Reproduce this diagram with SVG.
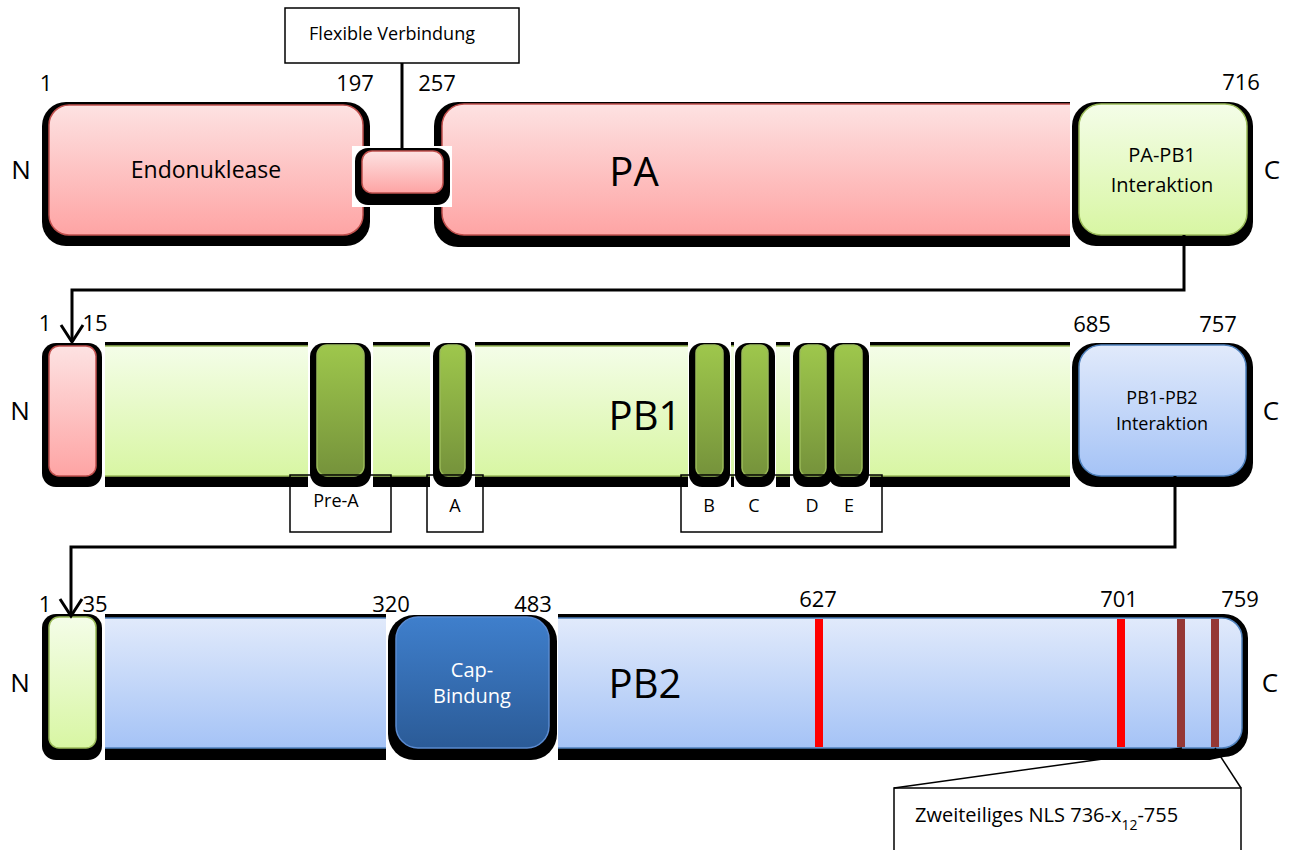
<svg xmlns="http://www.w3.org/2000/svg" width="1293" height="850" viewBox="0 0 1293 850">
<defs>
<linearGradient id="gRed" x1="0" y1="0" x2="0" y2="1"><stop offset="0" stop-color="#fde2e2"/><stop offset="1" stop-color="#fea4a4"/></linearGradient>
<linearGradient id="gLG" x1="0" y1="0" x2="0" y2="1"><stop offset="0" stop-color="#f4fde8"/><stop offset="1" stop-color="#d8f6a3"/></linearGradient>
<linearGradient id="gDG" x1="0" y1="0" x2="0" y2="1"><stop offset="0" stop-color="#9ec74c"/><stop offset="1" stop-color="#75923b"/></linearGradient>
<linearGradient id="gLB" x1="0" y1="0" x2="0" y2="1"><stop offset="0" stop-color="#e1eafb"/><stop offset="1" stop-color="#a5c3f6"/></linearGradient>
<linearGradient id="gDB" x1="0" y1="0" x2="0" y2="1"><stop offset="0" stop-color="#3f7fcc"/><stop offset="1" stop-color="#2b5b97"/></linearGradient>
<marker id="arr" markerUnits="userSpaceOnUse" markerWidth="22" markerHeight="26" refX="19" refY="13" orient="auto" viewBox="0 0 22 26">
<path d="M2,2 L19,13 L2,24" fill="none" stroke="#000" stroke-width="3"/>
</marker>
<style>
.sh{fill:#000}
.w{fill:#fff}
.red{fill:url(#gRed);stroke:#c0504d;stroke-width:1.5}
.lg{fill:url(#gLG);stroke:#9bbb59;stroke-width:1.5}
.dg{fill:url(#gDG);stroke:#9bbb59;stroke-width:1.5}
.lb{fill:url(#gLB);stroke:#4f81bd;stroke-width:1.5}
.db{fill:url(#gDB);stroke:#5a8ad0;stroke-width:1.5}
.ns{stroke:none}
.edge{fill:none;stroke-width:1.5}
.box{fill:none;stroke:#000;stroke-width:1.5}
.t{font-family:"Open Sans","Liberation Sans",sans-serif;fill:#000}
.wt{fill:#fff}
.m{text-anchor:middle}
.num{font-size:22px;text-anchor:middle}
.nc{font-size:26px;text-anchor:middle}
.big{font-size:40px;text-anchor:middle}
.lbl{font-size:18px}
.con{fill:none;stroke:#000;stroke-width:3}
.thin{fill:none;stroke:#000;stroke-width:1.5}
</style>
</defs>
<rect width="1293" height="850" fill="#fff"/>

<!-- Row 1: PA -->
<g id="endonuklease">
<rect class="sh" x="42" y="102" width="328" height="144" rx="24"/>
<rect class="red" x="49" y="105" width="314" height="130" rx="20"/>
<text class="t m" x="206" y="178" font-size="23">Endonuklease</text>
</g>
<g id="pa">
<path class="sh" d="M1070,102 H458 A24,24 0 0 0 434,126 V223 A24,24 0 0 0 458,247 H1070 Z"/>
<path class="red ns" d="M1070,104 H464 A22,22 0 0 0 442,126 V213 A22,22 0 0 0 464,235 H1070 Z"/>
<path class="edge" stroke="#c0504d" d="M1070,104 H464 A22,22 0 0 0 442,126 V213 A22,22 0 0 0 464,235 H1070"/>
<text class="t big" x="634" y="186">PA</text>
</g>
<g id="linker">
<rect class="w" x="352" y="146" width="100" height="61"/>
<rect class="sh" x="355" y="148" width="95" height="57" rx="13"/>
<rect class="red" x="362" y="151" width="81" height="42" rx="10"/>
</g>
<g id="flexible-verbindung">
<rect x="285" y="8" width="234" height="55" fill="#fff" stroke="#000" stroke-width="1.5"/>
<text class="t m lbl" x="392" y="40">Flexible Verbindung</text>
</g>
<g id="pa-pb1">
<rect class="sh" x="1072" y="102" width="181" height="144" rx="24"/>
<rect class="lg" x="1079" y="104" width="168" height="131" rx="22"/>
<text class="t m" x="1162" y="162" font-size="20">PA-PB1</text>
<text class="t m" x="1162" y="192" font-size="20">Interaktion</text>
</g>
<g id="pa-labels" class="t">
<text class="nc" x="21" y="179">N</text>
<text class="nc" x="1272" y="179">C</text>
<text class="num" x="46" y="91">1</text>
<text class="num" x="355" y="91">197</text>
<text class="num" x="437" y="91">257</text>
<text class="num" x="1241" y="90">716</text>
</g>

<!-- Row 2: PB1 -->
<g id="pb1-n">
<rect class="sh" x="42" y="343" width="60" height="144" rx="14"/>
<rect class="red" x="49" y="346" width="47" height="130" rx="10"/>
</g>
<g id="pb1">
<rect class="sh" x="105" y="342" width="965" height="145"/>
<rect class="lg ns" x="105" y="346" width="965" height="130"/>
<path class="edge" stroke="#9bbb59" d="M105,346 H1070 M105,476 H1070"/>
<rect class="w" x="308" y="340" width="65" height="150"/>
<rect class="w" x="430" y="340" width="45" height="150"/>
<rect class="w" x="688" y="340" width="43" height="150"/>
<rect class="w" x="734" y="340" width="42" height="150"/>
<rect class="w" x="790" y="340" width="80" height="150"/>
<text class="t big" x="645" y="430">PB1</text>
</g>
<g id="motif-pre-a">
<rect class="sh" x="310" y="343" width="61" height="144" rx="14"/>
<rect class="dg" x="317" y="345" width="47" height="131" rx="10"/>
</g>
<g id="motif-a">
<rect class="sh" x="433" y="343" width="39" height="144" rx="13"/>
<rect class="dg" x="440" y="345" width="25" height="131" rx="8"/>
</g>
<g id="motif-b">
<rect class="sh" x="689" y="343" width="41" height="144" rx="13"/>
<rect class="dg" x="696" y="345" width="27" height="131" rx="8"/>
</g>
<g id="motif-c">
<rect class="sh" x="735" y="343" width="40" height="144" rx="13"/>
<rect class="dg" x="742" y="345" width="26" height="131" rx="8"/>
</g>
<g id="motif-d">
<rect class="sh" x="793" y="343" width="40" height="144" rx="13"/>
<rect class="dg" x="800" y="345" width="26" height="131" rx="8"/>
</g>
<g id="motif-e">
<rect class="sh" x="828" y="343" width="41" height="144" rx="13"/>
<rect class="dg" x="835" y="345" width="27" height="131" rx="8"/>
</g>
<g id="label-pre-a">
<rect class="box" x="290" y="475" width="101" height="57"/>
<text class="t m lbl" x="336" y="507">Pre-A</text>
</g>
<g id="label-a">
<rect class="box" x="427" y="475" width="56" height="57"/>
<text class="t m lbl" x="455" y="512">A</text>
</g>
<g id="label-bcde">
<rect class="box" x="681" y="475" width="201" height="57"/>
<text class="t m lbl" x="709" y="512">B</text>
<text class="t m lbl" x="754" y="512">C</text>
<text class="t m lbl" x="812" y="512">D</text>
<text class="t m lbl" x="849" y="512">E</text>
</g>
<g id="pb1-pb2">
<rect class="sh" x="1072" y="343" width="181" height="144" rx="24"/>
<rect class="lb" x="1079" y="345" width="167" height="131" rx="22"/>
<text class="t m" x="1162" y="404" font-size="18">PB1-PB2</text>
<text class="t m" x="1162" y="430" font-size="18">Interaktion</text>
</g>
<g id="pb1-labels" class="t">
<text class="nc" x="20" y="420">N</text>
<text class="nc" x="1271" y="420">C</text>
<text class="num" x="45" y="331">1</text>
<text class="num" x="95" y="331">15</text>
<text class="num" x="1092" y="332">685</text>
<text class="num" x="1218" y="332">757</text>
</g>

<!-- Row 3: PB2 -->
<g id="pb2-n">
<rect class="sh" x="42" y="614" width="60" height="146" rx="14"/>
<rect class="lg" x="49" y="617" width="47" height="131" rx="10"/>
</g>
<g id="pb2">
<path class="sh" d="M105,614 H1224 A24,24 0 0 1 1248,638 V733 A24,24 0 0 1 1224,757 L1210,760 H105 Z"/>
<path class="lb ns" d="M105,618 H1222 A20,20 0 0 1 1242,638 V728 A20,20 0 0 1 1222,748 H105 Z"/>
<path class="edge" stroke="#4f81bd" d="M105,618 H1222 A20,20 0 0 1 1242,638 V728 A20,20 0 0 1 1222,748 H105"/>
<rect class="w" x="386" y="613" width="172" height="151"/>
<rect x="815" y="619" width="8" height="128" fill="#ff0000"/>
<rect x="1117" y="619" width="8" height="128" fill="#ff0000"/>
<rect x="1177" y="619" width="8" height="128" fill="#953735"/>
<rect x="1211" y="619" width="8" height="128" fill="#953735"/>
<text class="t big" x="645" y="698">PB2</text>
</g>
<g id="cap-bindung">
<rect class="sh" x="388" y="615" width="169" height="145" rx="26"/>
<rect class="db" x="396" y="617" width="153" height="131" rx="22"/>
<text class="t m wt" x="472" y="677" font-size="20">Cap-</text>
<text class="t m wt" x="472" y="703" font-size="20">Bindung</text>
</g>
<g id="nls">
<rect x="894" y="788" width="347" height="80" fill="#fff" stroke="#000" stroke-width="1.5"/>
<text class="t" x="915" y="822" font-size="20">Zweiteiliges NLS 736-x<tspan font-size="14" dy="8">12</tspan><tspan dy="-8">-755</tspan></text>
</g>
<g id="pb2-labels" class="t">
<text class="nc" x="20" y="692">N</text>
<text class="nc" x="1270" y="692">C</text>
<text class="num" x="45" y="612">1</text>
<text class="num" x="95" y="612">35</text>
<text class="num" x="391" y="612">320</text>
<text class="num" x="533" y="612">483</text>
<text class="num" x="818" y="607">627</text>
<text class="num" x="1119" y="607">701</text>
<text class="num" x="1240" y="607">759</text>
</g>

<g id="connectors">
<path class="con" d="M402,63 V150"/>
<path class="con" d="M1184,235 V290 H72 V342" marker-end="url(#arr)"/>
<path class="con" d="M1175,476 V547 H71 V616" marker-end="url(#arr)"/>
<path class="thin" d="M894,788 L1182,748"/>
<path class="thin" d="M1241,788 L1215,748"/>
</g>
</svg>
